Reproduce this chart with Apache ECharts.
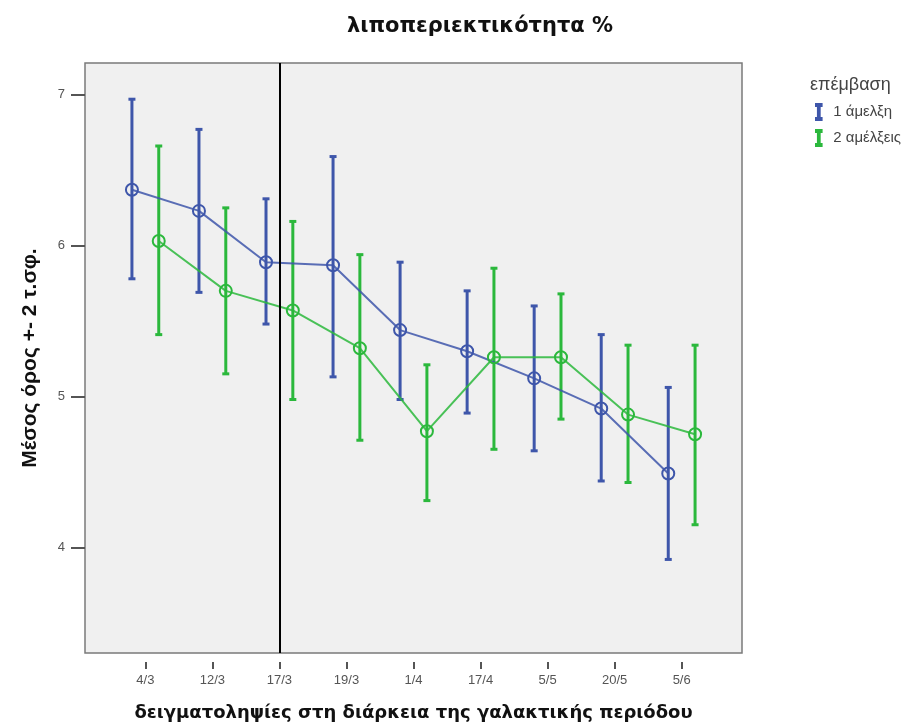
<!DOCTYPE html>
<html>
<head>
<meta charset="utf-8">
<script src="https://cdn.jsdelivr.net/npm/echarts@6/dist/echarts.min.js"></script>
<style>
  html, body { margin: 0; padding: 0; background: #fff; }
  #chart { width: 913px; height: 722px; }
</style>
</head>
<body>
<div id="chart"></div>
<script>
// sampling dates
const categories = ['4/3', '12/3', '17/3', '19/3', '1/4', '17/4', '5/5', '20/5', '5/6'];

// 1 άμελξη
const oneMean = [6.37, 6.23, 5.89, 5.87, 5.44, 5.30, 5.12, 4.92, 4.49];
const oneLow  = [5.78, 5.69, 5.48, 5.13, 4.98, 4.89, 4.64, 4.44, 3.92];
const oneHigh = [6.97, 6.77, 6.31, 6.59, 5.89, 5.70, 5.60, 5.41, 5.06];

// 2 αμέλξεις
const twoMean = [6.03, 5.70, 5.57, 5.32, 4.77, 5.26, 5.26, 4.88, 4.75];
const twoLow  = [5.41, 5.15, 4.98, 4.71, 4.31, 4.65, 4.85, 4.43, 4.15];
const twoHigh = [6.66, 6.25, 6.16, 5.94, 5.21, 5.85, 5.68, 5.34, 5.34];

const yTicks = [4, 5, 6, 7];
const markDate = '17/3';

const blue = '#3e56aa';
const green = '#2bb83c';
const dodge = 0.2;

function points(means, shift) {
    return means.map((v, i) => [i + shift, v]);
}
function bars(lows, highs, shift) {
    return lows.map((v, i) => [i + shift, v, highs[i]]);
}

function errorBar(color) {
    return function (params, api) {
        const lo = api.coord([api.value(0), api.value(1)]);
        const hi = api.coord([api.value(0), api.value(2)]);
        const w = 3.5;
        const style = {stroke: color, lineWidth: 3};
        return {
            type: 'group',
            children: [
                {type: 'line', shape: {x1: lo[0], y1: lo[1], x2: hi[0], y2: hi[1]}, style: style},
                {type: 'line', shape: {x1: lo[0] - w, y1: lo[1], x2: lo[0] + w, y2: lo[1]}, style: style},
                {type: 'line', shape: {x1: hi[0] - w, y1: hi[1], x2: hi[0] + w, y2: hi[1]}, style: style}
            ]
        };
    };
}

const iBeam = 'path://M0,0H7V2.5H4.6V17.5H7V20H0V17.5H2.4V2.5H0Z';

let chart = echarts.init(document.getElementById('chart'));
chart.setOption({
    animation: false,
    title: {
        text: 'λιποπεριεκτικότητα %',
        left: 342,
        top: 11,
        textStyle: {fontFamily: 'DejaVu Sans', fontWeight: 'bold', fontSize: 21, color: '#111'}
    },
    graphic: [{
        type: 'text',
        left: 810,
        top: 76,
        style: {text: 'επέμβαση', font: '18px "Liberation Sans"', fill: '#444'}
    }],
    legend: {
        orient: 'vertical',
        left: 810,
        top: 98,
        itemWidth: 7,
        itemHeight: 16,
        itemGap: 8,
        textStyle: {fontFamily: 'Liberation Sans', fontSize: 15, color: '#444', padding: [0, 0, 0, 6]},
        data: [
            {name: '1 άμελξη', icon: iBeam, itemStyle: {color: blue}},
            {name: '2 αμέλξεις', icon: iBeam, itemStyle: {color: green}}
        ]
    },
    grid: {
        left: 85,
        right: 171,
        top: 63,
        bottom: 69,
        outerBoundsMode: 'none',
        containLabel: false,
        show: true,
        backgroundColor: '#f0f0f0',
        borderColor: '#7a7a7a',
        borderWidth: 1.5
    },
    xAxis: {
        type: 'value',
        min: -0.9,
        max: 8.9,
        offset: 9,
        axisLine: {show: false, onZero: false},
        splitLine: {show: false},
        axisTick: {show: true, length: 7, customValues: categories.map((c, i) => i), lineStyle: {color: '#555', width: 2}},
        axisLabel: {
            customValues: categories.map((c, i) => i),
            formatter: v => categories[Math.round(v)],
            fontFamily: 'Liberation Sans', fontSize: 13, color: '#555', margin: 12
        },
        name: 'δειγματοληψίες στη διάρκεια της γαλακτικής περιόδου',
        nameLocation: 'middle',
        nameGap: 42,
        nameTextStyle: {fontFamily: 'DejaVu Sans', fontWeight: 'bold', fontSize: 18, color: '#111'}
    },
    yAxis: {
        type: 'value',
        min: 3.3,
        max: 7.21,
        axisLine: {show: false, onZero: false},
        splitLine: {show: false},
        axisTick: {show: true, length: 14, customValues: yTicks, lineStyle: {color: '#555', width: 2}},
        axisLabel: {
            customValues: yTicks,
            fontFamily: 'Liberation Sans', fontSize: 13, color: '#555', margin: 20
        },
        name: 'Μέσος όρος +- 2 τ.σφ.',
        nameLocation: 'middle',
        nameGap: 44,
        nameTextStyle: {fontFamily: 'Liberation Sans', fontWeight: 'bold', fontSize: 21, color: '#111'}
    },
    series: [
        {
            name: 'bars1',
            type: 'custom',
            renderItem: errorBar(blue),
            data: bars(oneLow, oneHigh, -dodge),
            z: 2
        },
        {
            name: 'bars2',
            type: 'custom',
            renderItem: errorBar(green),
            data: bars(twoLow, twoHigh, dodge),
            z: 2
        },
        {
            name: '1 άμελξη',
            type: 'line',
            data: points(oneMean, -dodge),
            symbol: 'circle',
            symbolSize: 12,
            lineStyle: {color: blue, width: 2, opacity: 0.85},
            itemStyle: {color: 'rgba(0,0,0,0)', borderColor: blue, borderWidth: 2},
            z: 3,
            markLine: {
                silent: true,
                symbol: 'none',
                label: {show: false},
                lineStyle: {color: '#000', type: 'solid', width: 2},
                data: [{xAxis: categories.indexOf(markDate)}]
            }
        },
        {
            name: '2 αμέλξεις',
            type: 'line',
            data: points(twoMean, dodge),
            symbol: 'circle',
            symbolSize: 12,
            lineStyle: {color: green, width: 2, opacity: 0.85},
            itemStyle: {color: 'rgba(0,0,0,0)', borderColor: green, borderWidth: 2},
            z: 3
        }
    ]
});
</script>
</body>
</html>
